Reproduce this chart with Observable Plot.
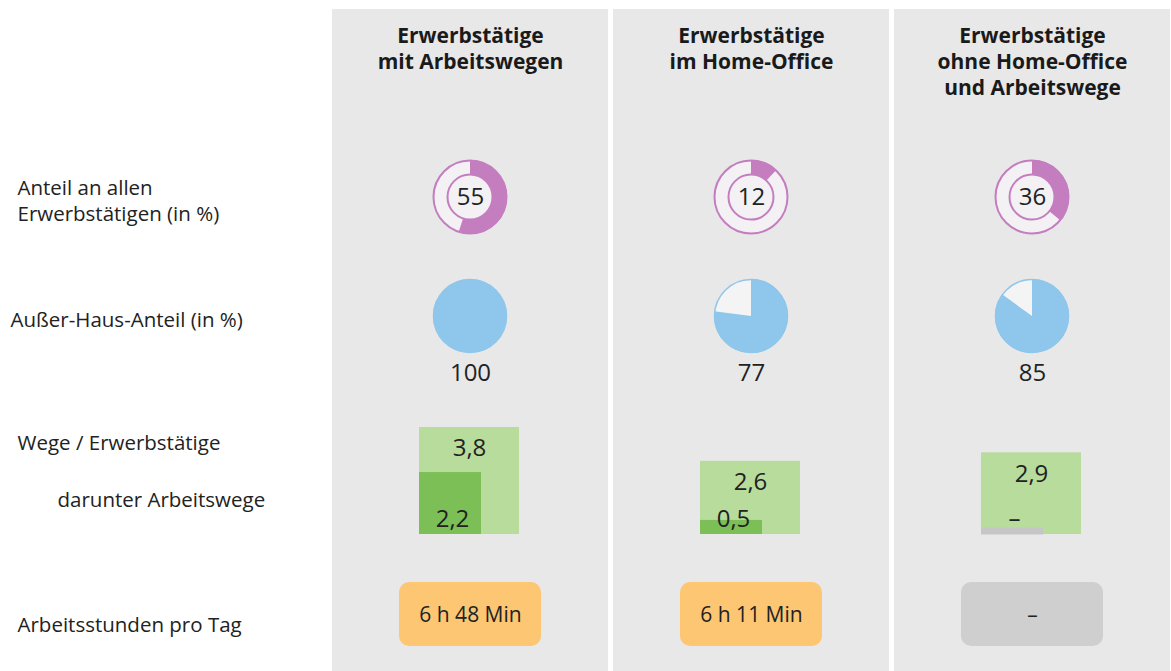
<!DOCTYPE html>
<html><head><meta charset="utf-8">
<script src="https://cdn.jsdelivr.net/npm/d3@7"></script>
<script src="https://cdn.jsdelivr.net/npm/@observablehq/plot@0.6"></script>
<style>html,body{margin:0;padding:0;background:#fff;} svg{display:block}</style>
</head><body><div id="chart"></div>
<script>
// ---- data ----
const categories = [
  "Erwerbstätige\nmit Arbeitswegen",
  "Erwerbstätige\nim Home-Office",
  "Erwerbstätige\nohne Home-Office\nund Arbeitswege"
];
const shareOfAllWorkers = [55, 12, 36];          // Anteil an allen Erwerbstätigen (in %)
const outOfHomeShare = [100, 77, 85];            // Außer-Haus-Anteil (in %)
const tripsPerWorker = [3.8, 2.6, 2.9];          // Wege / Erwerbstätige
const workTripsPerWorker = [2.2, 0.5, null];     // darunter Arbeitswege
const workHoursPerDay = ["6 h 48 Min", "6 h 11 Min", null];
const rowLabels = [
  "Anteil an allen\nErwerbstätigen (in %)",
  "Außer-Haus-Anteil (in %)",
  "Wege / Erwerbstätige",
  "darunter Arbeitswege",
  "Arbeitsstunden pro Tag"
];

const rows = categories.map((cat, i) => ({
  cat, share: shareOfAllWorkers[i], outside: outOfHomeShare[i],
  trips: tripsPerWorker[i], work: workTripsPerWorker[i], hours: workHoursPerDay[i]
}));
const fmt = v => v == null ? "–" : d3.format(".1f")(v).replace(".", ",");

// ---- style / layout ----
const TOP = 9;
const Y_SHARE = 197, Y_OUT = 316;
const PANEL = "#e8e8e8", TEXT = "#222";
const PURPLE = "#c47ec0", LIGHT = "#f3f1f3", BLUE = "#8fc6ec";
const GREEN_L = "#b8dc9c", GREEN_D = "#7cbf56", ORANGE = "#fcc673", GREY = "#cfcfcf";
const LABEL_SIZE = 20.5;

function circles(index, scales) {
  const x = scales.x;
  const bw = x.bandwidth ? x.bandwidth() : 0;
  const g = d3.create("svg:g");
  const ring = d3.arc().innerRadius(22.5).outerRadius(37);
  const pie = d3.arc().innerRadius(0).outerRadius(37);
  rows.forEach(d => {
    const cx = x(d.cat) + bw / 2;
    const gd = g.append("g").attr("transform", `translate(${cx},${Y_SHARE})`);
    gd.append("circle").attr("r", 36.5).attr("fill", LIGHT).attr("stroke", PURPLE).attr("stroke-width", 2);
    gd.append("path").attr("d", ring({startAngle: 0, endAngle: d.share / 100 * 2 * Math.PI})).attr("fill", PURPLE);
    gd.append("circle").attr("r", 22.5).attr("fill", LIGHT).attr("stroke", PURPLE).attr("stroke-width", 2);
    const gp = g.append("g").attr("transform", `translate(${cx},${Y_OUT})`);
    gp.append("circle").attr("r", 36.5).attr("fill", "#f4f4f4").attr("stroke", BLUE).attr("stroke-width", 1.5);
    gp.append("path").attr("d", pie({startAngle: 0, endAngle: d.outside / 100 * 2 * Math.PI})).attr("fill", BLUE);
  });
  return g.node();
}

const label = (text, dx, cy, extra = {}) =>
  Plot.text([text], {text: d => d, frameAnchor: "top-left", textAnchor: "start", lineAnchor: "middle",
    dx, dy: cy - TOP, fontSize: LABEL_SIZE, ...extra});

const chart = Plot.plot({
  width: 1171, height: 671,
  marginTop: TOP, marginBottom: 0, marginLeft: 0, marginRight: 0,
  style: {fontFamily: "'Open Sans', sans-serif", background: "#fff", color: TEXT},
  x: {type: "band", domain: categories, range: [332, 1170], paddingInner: 0.018, paddingOuter: 0, axis: null},
  y: {domain: [0, 3.8], range: [534, 427], axis: null},
  marks: [
    Plot.cell(categories, {x: d => d, fill: PANEL}),
    // headers
    Plot.text(categories, {x: d => d, text: d => d, frameAnchor: "top", lineAnchor: "top", dy: 15,
      fontSize: 21, fontWeight: "bold", lineHeight: 1.24, fill: "#1a1a1a"}),
    // row labels
    label(rowLabels[0], 17, 199, {lineHeight: 1.27}),
    label(rowLabels[1], 10, 320),
    label(rowLabels[2], 17, 443),
    label(rowLabels[3], 57, 500),
    label(rowLabels[4], 17, 625),
    // donuts & pies
    circles,
    Plot.text(rows, {x: "cat", text: d => String(d.share), frameAnchor: "top", lineAnchor: "middle", dy: Y_SHARE - TOP, fontSize: 24}),
    Plot.text(rows, {x: "cat", text: d => String(d.outside), frameAnchor: "top", lineAnchor: "middle", dy: 373 - TOP, fontSize: 24}),
    // trips
    Plot.barY(rows, {x: "cat", y: "trips", fill: GREEN_L, insetLeft: 87, insetRight: 89}),
    Plot.barY(rows.filter(d => d.work != null), {x: "cat", y: "work", fill: GREEN_D, insetLeft: 87, insetRight: 127}),
    Plot.tickY(rows.filter(d => d.work == null), {x: "cat", y: () => 0, stroke: "#c6c6c6", strokeWidth: 7, dy: -3.5, insetLeft: 87, insetRight: 127}),
    Plot.text(rows, {x: "cat", y: "trips", text: d => fmt(d.trips), dy: 21, dx: -1, fontSize: 24, lineAnchor: "middle"}),
    Plot.text(rows, {x: "cat", y: () => 0, text: d => fmt(d.work), dy: -15, dx: -18, fontSize: 24, lineAnchor: "middle"}),
    // work hours
    Plot.cell(rows, {x: "cat", fill: d => d.hours ? ORANGE : GREY, insetTop: 582 - TOP, insetBottom: 671 - 646, insetLeft: 67, insetRight: 67, rx: 10}),
    Plot.text(rows, {x: "cat", text: d => d.hours ?? "–", frameAnchor: "top", lineAnchor: "middle", dy: 615 - TOP, fontSize: 21})
  ]
});
document.getElementById("chart").appendChild(chart);
</script>
</body></html>
